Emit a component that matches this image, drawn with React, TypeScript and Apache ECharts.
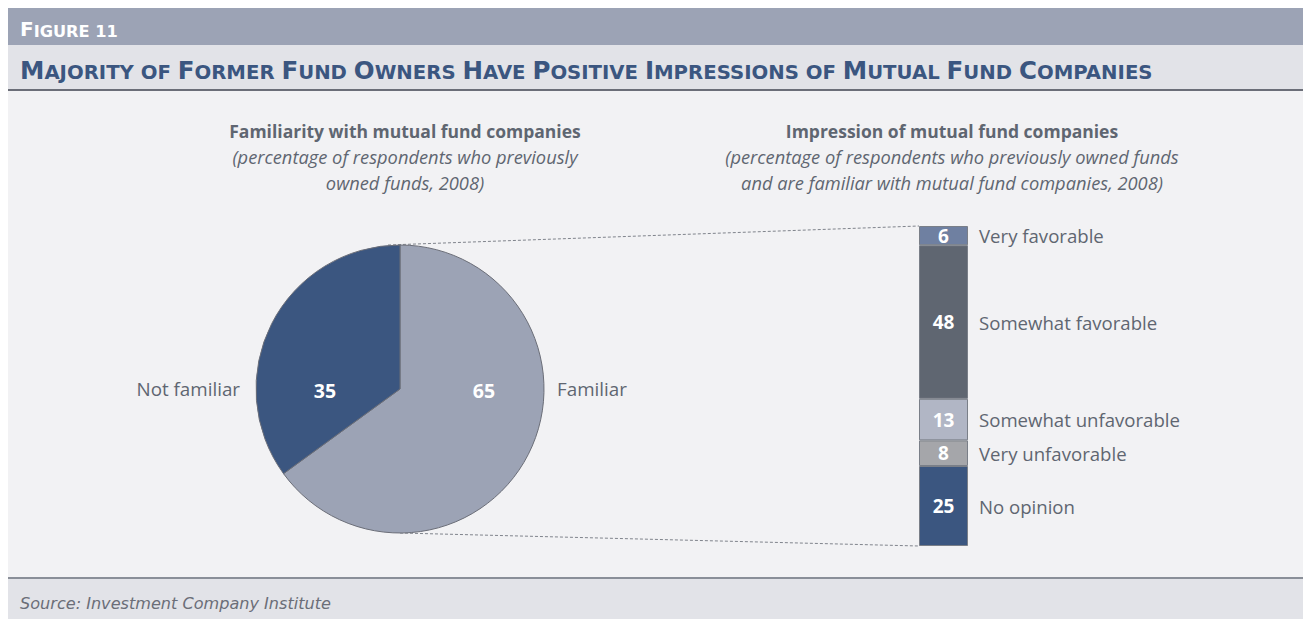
import React, { useEffect, useRef } from 'react';
import * as echarts from 'echarts';

const figureLabel = 'Figure 11';
const chartTitle = 'Majority of Former Fund Owners Have Positive Impressions of Mutual Fund Companies';
const sourceText = 'Source: Investment Company Institute';

const pieTitle = ['Familiarity with mutual fund companies', '(percentage of respondents who previously', 'owned funds, 2008)'];
const barTitle = ['Impression of mutual fund companies', '(percentage of respondents who previously owned funds', 'and are familiar with mutual fund companies, 2008)'];

const pieNames = ['Familiar', 'Not familiar'];
const pieValues = [65, 35];
const pieColors = ['#9ca3b5', '#3b5680'];

const barNames = ['Very favorable', 'Somewhat favorable', 'Somewhat unfavorable', 'Very unfavorable', 'No opinion'];
const barValues = [6, 48, 13, 8, 25];
const barColors = ['#6f80a1', '#5f6671', '#b1b6c5', '#a5a6aa', '#3b5680'];

const W = 1303;
const H = 619;
const M = 8;
const PIE_CX = 400;
const PIE_CY = 389;
const PIE_R = 144;
const BAR_L = 919;
const BAR_T = 226;
const BAR_W = 49;
const BAR_H = 320;

const TEXT = '#5f6671';
const FONT = '"Open Sans", sans-serif';
const CAPS_FONT = '"DejaVu Sans", sans-serif';

function smallCaps(text: string): string {
  let out = '';
  let cur = '';
  let curBig: boolean | null = null;
  for (const ch of text) {
    const big = /[A-Z]/.test(ch);
    if (curBig !== null && big !== curBig) {
      out += `{${curBig ? 'b' : 's'}|${cur}}`;
      cur = '';
    }
    curBig = big;
    cur += ch.toUpperCase();
  }
  if (cur) out += `{${curBig ? 'b' : 's'}|${cur}}`;
  return out;
}

export default function App() {
  const ref = useRef<HTMLDivElement>(null);
  useEffect(() => {
    if (!ref.current) return;
    const prevOverflow = document.documentElement.style.overflow;
    document.documentElement.style.overflow = 'hidden';
    const chart = echarts.init(ref.current, undefined, { renderer: 'svg' });

    const titleLines = (lines: string[], cx: number) =>
      lines.map((t, i) => ({
        type: 'text',
        x: cx,
        y: 131 + i * 25.5,
        style: {
          text: t,
          x: 0,
          y: 0,
          align: 'center',
          verticalAlign: 'middle',
          fill: TEXT,
          fontFamily: FONT,
          fontSize: i === 0 ? 17.5 : 18.3,
          fontWeight: i === 0 ? 'bold' : 'normal',
          fontStyle: i === 0 ? 'normal' : 'italic',
        },
      }));

    chart.setOption({
      animation: false,
      backgroundColor: '#ffffff',
      graphic: [
        { type: 'rect', shape: { x: M, y: M, width: W - M, height: 37 }, style: { fill: '#9ca3b5' }, silent: true },
        { type: 'rect', shape: { x: M, y: 45, width: W - M, height: 44 }, style: { fill: '#e2e3e8' }, silent: true },
        { type: 'rect', shape: { x: M, y: 89, width: W - M, height: 2 }, style: { fill: '#6b6e78' }, silent: true },
        { type: 'rect', shape: { x: M, y: 91, width: W - M, height: 486 }, style: { fill: '#f2f2f4' }, silent: true, z: -10 },
        { type: 'rect', shape: { x: M, y: 577, width: W - M, height: 2 }, style: { fill: '#8a8f98' }, silent: true },
        { type: 'rect', shape: { x: M, y: 579, width: W - M, height: H - 579 }, style: { fill: '#e2e3e8' }, silent: true },
        {
          type: 'text',
          x: 20,
          y: 29,
          style: {
            text: smallCaps(figureLabel),
            verticalAlign: 'middle',
            fill: '#ffffff',
            rich: {
              b: { fontFamily: CAPS_FONT, fontWeight: 'bold', fontSize: 20, fill: '#ffffff', verticalAlign: 'bottom' },
              s: { fontFamily: CAPS_FONT, fontWeight: 'bold', fontSize: 16.2, fill: '#ffffff', verticalAlign: 'bottom' },
            },
          },
        },
        {
          type: 'text',
          x: 20,
          y: 70,
          style: {
            text: smallCaps(chartTitle),
            verticalAlign: 'middle',
            fill: '#3b5680',
            rich: {
              b: { fontFamily: CAPS_FONT, fontWeight: 'bold', fontSize: 24.5, fill: '#3b5680', verticalAlign: 'bottom' },
              s: { fontFamily: CAPS_FONT, fontWeight: 'bold', fontSize: 19.7, fill: '#3b5680', verticalAlign: 'bottom' },
            },
          },
        },
        {
          type: 'text',
          x: 20,
          y: 603,
          style: {
            text: sourceText,
            verticalAlign: 'middle',
            fill: '#6b6e78',
            fontFamily: CAPS_FONT,
            fontStyle: 'italic',
            fontSize: 16.1,
          },
        },
        ...titleLines(pieTitle, 405),
        ...titleLines(barTitle, 952),
        {
          type: 'line',
          shape: { x1: PIE_CX - 12, y1: PIE_CY - PIE_R, x2: BAR_L, y2: BAR_T },
          style: { stroke: '#80848c', lineWidth: 1, lineDash: [3, 2] },
          silent: true,
        },
        {
          type: 'line',
          shape: { x1: PIE_CX, y1: PIE_CY + PIE_R, x2: BAR_L, y2: BAR_T + BAR_H },
          style: { stroke: '#80848c', lineWidth: 1, lineDash: [3, 2] },
          silent: true,
        },
      ],
      grid: { left: BAR_L, top: BAR_T, width: BAR_W, height: BAR_H, containLabel: false },
      xAxis: { type: 'category', data: ['impression'], show: false },
      yAxis: { type: 'value', min: 0, max: 100, inverse: true, show: false },
      series: [
        {
          type: 'pie',
          center: [PIE_CX, PIE_CY],
          radius: PIE_R,
          startAngle: 90,
          clockwise: true,
          silent: true,
          itemStyle: { borderColor: '#6b6e78', borderWidth: 1 },
          data: pieNames.map((n, i) => ({ name: n, value: pieValues[i], itemStyle: { color: pieColors[i] } })),
          label: { show: true, position: 'inside', formatter: '{c}', color: '#ffffff', fontFamily: FONT, fontWeight: 'bold', fontSize: 19.5 },
          labelLine: { show: false },
          labelLayout: (p: any) => ({ x: PIE_CX + (p.dataIndex === 0 ? 84 : -75), y: PIE_CY + 1, align: 'center', verticalAlign: 'middle' }),
        },
        {
          type: 'pie',
          center: [PIE_CX, PIE_CY],
          radius: PIE_R,
          startAngle: 90,
          clockwise: true,
          silent: true,
          itemStyle: { color: 'rgba(0,0,0,0)', borderWidth: 0 },
          data: pieNames.map((n, i) => ({ name: n, value: pieValues[i] })),
          label: { show: true, position: 'inside', formatter: '{b}', color: TEXT, fontFamily: FONT, fontSize: 18.8 },
          labelLine: { show: false },
          labelLayout: (p: any) =>
            p.dataIndex === 0
              ? { x: PIE_CX + 157, y: PIE_CY, align: 'left', verticalAlign: 'middle' }
              : { x: PIE_CX - 160, y: PIE_CY, align: 'right', verticalAlign: 'middle' },
        },
        ...barNames.map((n, i) => ({
          type: 'bar',
          name: n,
          stack: 'v',
          barWidth: BAR_W,
          barGap: '-100%',
          silent: true,
          data: [barValues[i]],
          itemStyle: { color: barColors[i], borderColor: '#7a7f88', borderWidth: 1 },
          label: { show: true, position: 'inside', formatter: '{c}', color: '#ffffff', fontFamily: FONT, fontWeight: 'bold', fontSize: 19 },
        })),
        ...barNames.map((n, i) => ({
          type: 'bar',
          name: n + ' ',
          stack: 'n',
          barWidth: BAR_W,
          barGap: '-100%',
          silent: true,
          data: [barValues[i]],
          itemStyle: { color: 'rgba(0,0,0,0)' },
          label: { show: true, position: 'right', distance: 11, formatter: () => n, color: TEXT, fontFamily: FONT, fontSize: 18.6 },
        })),
      ],
    });
    return () => {
      chart.dispose();
      document.documentElement.style.overflow = prevOverflow;
    };
  }, []);
  return <div ref={ref} style={{ position: 'fixed', left: 0, top: 0, width: W, height: H }} />;
}
